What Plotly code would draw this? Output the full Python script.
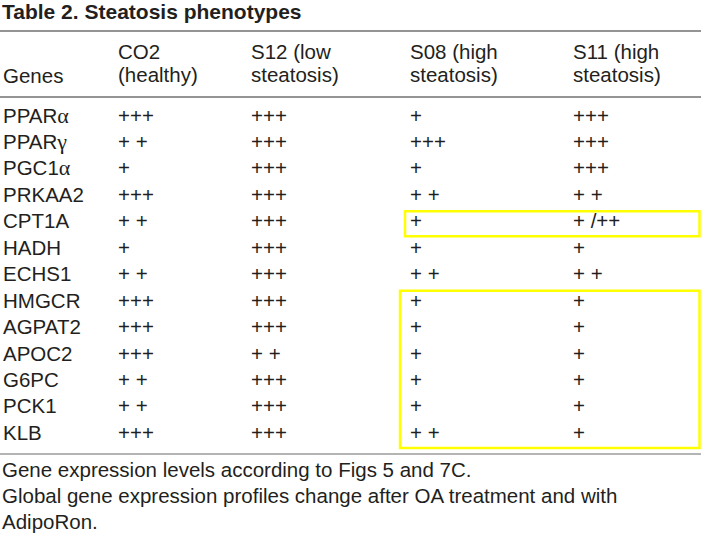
import plotly.graph_objects as go

title = "Table 2. Steatosis phenotypes"
headers_top = ["", "CO2", "S12 (low", "S08 (high", "S11 (high"]
headers_bot = ["Genes", "(healthy)", "steatosis)", "steatosis)", "steatosis)"]
AL = '<span style="font-family:Liberation Serif;font-size:22px">α</span>'
GA = '<span style="font-family:Liberation Serif;font-size:22px">γ</span>'
genes = ["PPAR" + AL, "PPAR" + GA, "PGC1" + AL, "PRKAA2", "CPT1A", "HADH", "ECHS1",
         "HMGCR", "AGPAT2", "APOC2", "G6PC", "PCK1", "KLB"]
co2 = ["+++", "+ +", "+", "+++", "+ +", "+", "+ +", "+++", "+++", "+++", "+ +", "+ +", "+++"]
s12 = ["+++", "+++", "+++", "+++", "+++", "+++", "+++", "+++", "+++", "+ +", "+++", "+++", "+++"]
s08 = ["+", "+++", "+", "+ +", "+", "+", "+ +", "+", "+", "+", "+", "+", "+ +"]
s11 = ["+++", "+++", "+++", "+ +", "+ /++", "+", "+ +", "+", "+", "+", "+", "+", "+"]
footnotes = ["Gene expression levels according to Figs 5 and 7C.",
             "Global gene expression profiles change after OA treatment and with",
             "AdipoRon."]
# highlighted blocks: (first row index, last row index, first column index)
highlights = [(4, 4, 3), (7, 12, 3)]

W, H = 701, 534
FONT = "Liberation Sans, Arial, sans-serif"
TXT = "#231f20"
FS = 20.5

col_x = [1, 116, 249, 408, 571]
row_y0, row_dy = 115, 26.45
header_y1, header_y2 = 51, 74
line_top, line_mid, line_bot = 31, 97, 454
foot_y0, foot_dy = 469, 26.0

fig = go.Figure()
ann = []
ann.append(dict(x=0, y=11, text="<b>" + title + "</b>", xanchor="left", yanchor="middle",
                font=dict(size=21, color=TXT, family=FONT)))
for j in range(len(headers_top)):
    if headers_top[j]:
        ann.append(dict(x=col_x[j], y=header_y1, text=headers_top[j], xanchor="left", yanchor="middle",
                        font=dict(size=FS, color=TXT, family=FONT)))
    ann.append(dict(x=col_x[j], y=header_y2 + (1 if j == 0 else 0), text=headers_bot[j], xanchor="left",
                    yanchor="middle", font=dict(size=FS, color=TXT, family=FONT)))
columns = [genes, co2, s12, s08, s11]
for j, col in enumerate(columns):
    for i, v in enumerate(col):
        ann.append(dict(x=col_x[j], y=row_y0 + i * row_dy, text=v, xanchor="left", yanchor="middle",
                        font=dict(size=FS, color=TXT, family=FONT)))
for k, f in enumerate(footnotes):
    ann.append(dict(x=0, y=foot_y0 + k * foot_dy, text=f, xanchor="left", yanchor="middle",
                    font=dict(size=FS, color=TXT, family=FONT)))
for a in ann:
    a.update(xref="x", yref="y", showarrow=False)

shapes = [
    dict(type="line", x0=0, x1=W, y0=line_top, y1=line_top, line=dict(color="#707070", width=1.5)),
    dict(type="line", x0=0, x1=W, y0=line_mid, y1=line_mid, line=dict(color="#707070", width=1.5)),
    dict(type="line", x0=0, x1=W, y0=line_bot, y1=line_bot, line=dict(color="#b4b4b4", width=2)),
]
for r0, r1, c in highlights:
    shapes.append(dict(type="rect", x0=col_x[c] - 3 if r0 == r1 else col_x[c] - 8, x1=699.5,
                       y0=row_y0 + r0 * row_dy - 9.5, y1=row_y0 + r1 * row_dy + 15.5,
                       line=dict(color="#ffff00", width=2.5)))
for s in shapes:
    s.update(xref="x", yref="y")

fig.update_layout(
    width=W, height=H, margin=dict(l=0, r=0, t=0, b=0),
    paper_bgcolor="white", plot_bgcolor="white",
    xaxis=dict(range=[0, W], visible=False, fixedrange=True),
    yaxis=dict(range=[H, 0], visible=False, fixedrange=True),
    annotations=ann, shapes=shapes, showlegend=False,
)
fig.write_html("out.html", config={"displayModeBar": False},
               post_script="document.body.style.margin='0';document.body.style.padding='0';document.body.style.overflow='hidden';")
